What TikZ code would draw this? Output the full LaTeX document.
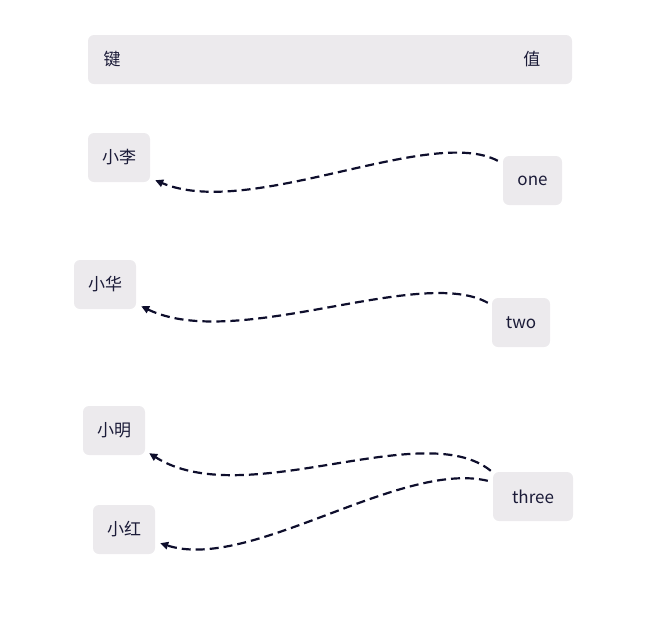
\documentclass[tikz,border=0pt]{standalone}
\usepackage{fontspec}
\setmainfont{Noto Sans CJK SC}
\usetikzlibrary{arrows.meta,calc}
\definecolor{cellbg}{HTML}{ECEAED}
\definecolor{ink}{HTML}{1B1B38}
\definecolor{linkcol}{HTML}{0E0E2C}
\begin{document}
\begin{tikzpicture}[x=1pt,y=-1pt,font=\fontsize{17}{20}\selectfont,text=ink,line join=round,
		cell/.style={fill=cellbg,rounded corners=6pt,minimum height=49pt,minimum width=62pt,inner xsep=13pt,inner ysep=0pt},
		link/.style={draw=linkcol,line width=2.2pt,dash pattern=on 9pt off 5pt,-{Triangle[length=8pt,width=7.5pt]}}]
	\useasboundingbox (0,0) rectangle (655,619);
	
	\node[cell,minimum width=484pt] (head) at (330,59.5) {};
	\node[anchor=west] (key) at (100,59.5) {键};
	\node[anchor=east] (val) at (544,59.5) {值};
	
	\node[cell] (li) at (119,157.5) {小李};
	\node[cell] (hua) at (105,284.5) {小华};
	\node[cell] (ming) at (114,430.5) {小明};
	\node[cell] (hong) at (124,529.5) {小红};
	
	\node[cell,minimum width=59pt] (one) at (532.5,180.5) {one};
	\node[cell,minimum width=58pt] (two) at (521,322.5) {two};
	\node[cell,minimum width=80pt] (three) at (533,496.5) {three};
	
	\draw[link] ($(one.north west)+(-5,5)$) .. controls (430,125) and (250,220) .. ($(li.south east)+(5,-2)$);
	\draw[link] ($(two.north west)+(-4,5)$) .. controls (420,265) and (236,352) .. ($(hua.south east)+(5,-3)$);
	\draw[link] ($(three.north west)+(-2,-1)$) .. controls (423,416) and (244,513) .. ($(ming.south east)+(4,-2)$);
	\draw[link] ($(three.north west)+(-5,9)$) .. controls (400,460) and (250,572) .. ($(hong.south east)+(5,-11)$);
\end{tikzpicture}
\end{document}
